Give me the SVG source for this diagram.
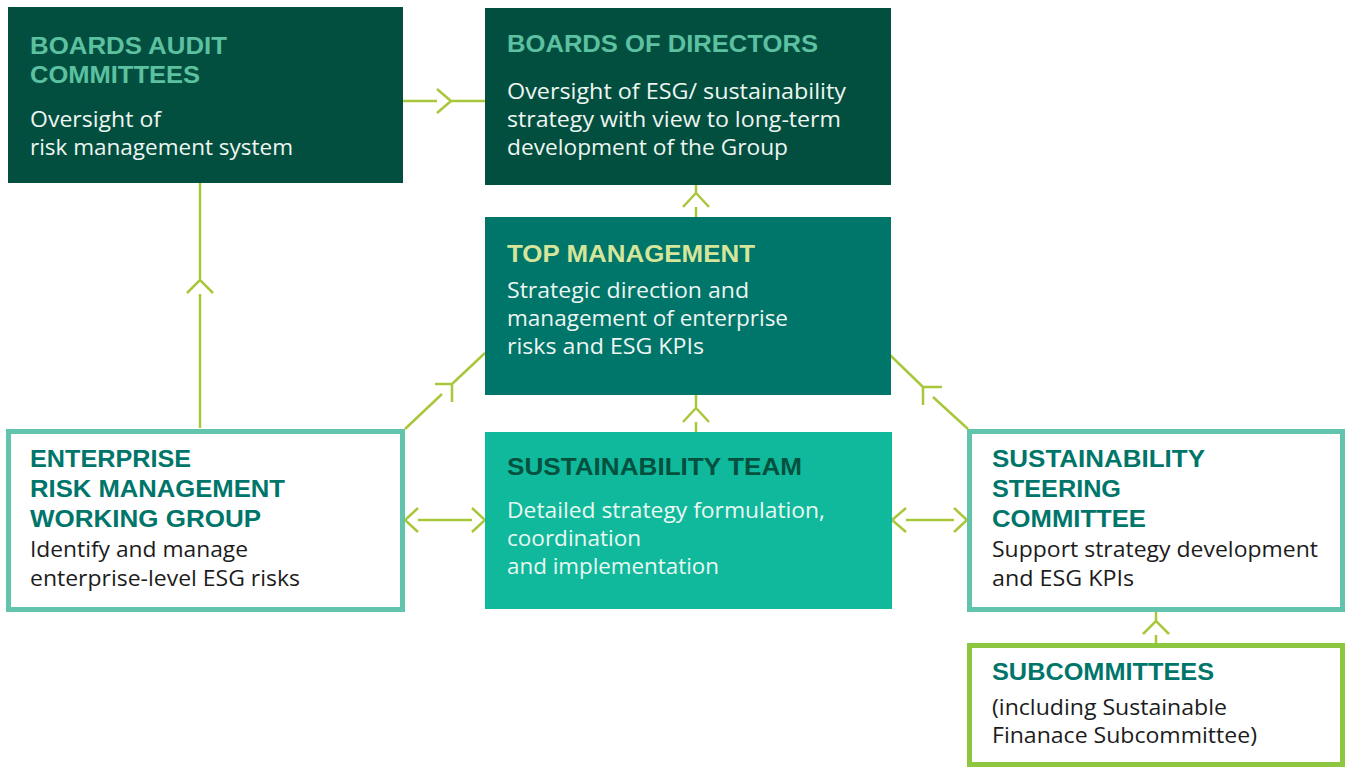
<svg xmlns="http://www.w3.org/2000/svg" width="1347" height="769" viewBox="0 0 1347 769">
<style>
.t{font-family:"Liberation Sans",Arial,sans-serif;font-weight:700;font-size:24.5px}
.b{font-family:"Open Sans","Liberation Sans",sans-serif;font-weight:400;font-size:21px}
.c{fill:none;stroke:#a9c73b;stroke-width:2.5;stroke-linecap:butt;stroke-linejoin:miter}
</style>
<rect width="1347" height="769" fill="#ffffff"/>
<g id="connectors">
  <path class="c" d="M403,101H437M437,89L451,101L437,113M451,101H485"/>
  <path class="c" d="M200,428V294M187,293L200,280L213,293M200,280V183"/>
  <path class="c" d="M696,217V207M683,207L696,193L709,207M696,193V185"/>
  <path class="c" d="M696,432V422M683,422L696,408L709,422M696,408V395"/>
  <path class="c" d="M405,429L442,394M435,384H452V402M452,384L485,353"/>
  <path class="c" d="M968,429L933,397M942,387H923V405M923,387L890,355"/>
  <path class="c" d="M418,508L405,520L418,532M418,520H472M472,508L485,520L472,532"/>
  <path class="c" d="M906,508L892,520L906,532M906,520H954M954,508L967,520L954,532"/>
  <path class="c" d="M1156,643V635M1143,634L1156,621L1169,634M1156,621V612"/>
</g>
<g id="audit">
  <rect x="8" y="7" width="395" height="176" fill="#034f3f"/>
  <text class="t" fill="#5cc1a1" x="30" y="54" textLength="197" lengthAdjust="spacingAndGlyphs">BOARDS AUDIT</text>
  <text class="t" fill="#5cc1a1" x="30" y="83" textLength="170" lengthAdjust="spacingAndGlyphs">COMMITTEES</text>
  <text class="b" fill="#eef6f2"><tspan x="30" y="127" textLength="131" lengthAdjust="spacingAndGlyphs">Oversight of</tspan><tspan x="30" y="155" textLength="263" lengthAdjust="spacingAndGlyphs">risk management system</tspan></text>
</g>
<g id="directors">
  <rect x="485" y="8" width="406" height="177" fill="#034f3f"/>
  <text class="t" fill="#5cc1a1" x="507" y="52" textLength="311" lengthAdjust="spacingAndGlyphs">BOARDS OF DIRECTORS</text>
  <text class="b" fill="#eef6f2"><tspan x="507" y="99" textLength="339" lengthAdjust="spacingAndGlyphs">Oversight of ESG/ sustainability</tspan><tspan x="507" y="127" textLength="334" lengthAdjust="spacingAndGlyphs">strategy with view to long-term</tspan><tspan x="507" y="155" textLength="281" lengthAdjust="spacingAndGlyphs">development of the Group</tspan></text>
</g>
<g id="top-management">
  <rect x="485" y="217" width="406" height="178" fill="#00756a"/>
  <text class="t" fill="#d5e59a" x="507" y="262" textLength="248" lengthAdjust="spacingAndGlyphs">TOP MANAGEMENT</text>
  <text class="b" fill="#eef6f2"><tspan x="507" y="298" textLength="242" lengthAdjust="spacingAndGlyphs">Strategic direction and</tspan><tspan x="507" y="326" textLength="281" lengthAdjust="spacingAndGlyphs">management of enterprise</tspan><tspan x="507" y="354" textLength="197" lengthAdjust="spacingAndGlyphs">risks and ESG KPIs</tspan></text>
</g>
<g id="sustainability-team">
  <rect x="485" y="432" width="407" height="177" fill="#10b99b"/>
  <text class="t" fill="#03503f" x="507" y="475" textLength="295" lengthAdjust="spacingAndGlyphs">SUSTAINABILITY TEAM</text>
  <text class="b" fill="#eaf8f3"><tspan x="507" y="518" textLength="318" lengthAdjust="spacingAndGlyphs">Detailed strategy formulation,</tspan><tspan x="507" y="546" textLength="134" lengthAdjust="spacingAndGlyphs">coordination</tspan><tspan x="507" y="574" textLength="212" lengthAdjust="spacingAndGlyphs">and implementation</tspan></text>
</g>
<g id="erm-working-group">
  <rect x="8.5" y="431.5" width="394" height="178" fill="#ffffff" stroke="#63c4ad" stroke-width="5"/>
  <text class="t" fill="#00756a" x="30" y="467" textLength="161" lengthAdjust="spacingAndGlyphs">ENTERPRISE</text>
  <text class="t" fill="#00756a" x="30" y="497" textLength="255" lengthAdjust="spacingAndGlyphs">RISK MANAGEMENT</text>
  <text class="t" fill="#00756a" x="30" y="527" textLength="231" lengthAdjust="spacingAndGlyphs">WORKING GROUP</text>
  <text class="b" fill="#1c1c1c"><tspan x="30" y="557" textLength="218" lengthAdjust="spacingAndGlyphs">Identify and manage</tspan><tspan x="30" y="586" textLength="270" lengthAdjust="spacingAndGlyphs">enterprise-level ESG risks</tspan></text>
</g>
<g id="steering-committee">
  <rect x="969.5" y="431.5" width="373" height="178" fill="#ffffff" stroke="#63c4ad" stroke-width="5"/>
  <text class="t" fill="#00756a" x="992" y="467" textLength="213" lengthAdjust="spacingAndGlyphs">SUSTAINABILITY</text>
  <text class="t" fill="#00756a" x="992" y="497" textLength="129" lengthAdjust="spacingAndGlyphs">STEERING</text>
  <text class="t" fill="#00756a" x="992" y="527" textLength="154" lengthAdjust="spacingAndGlyphs">COMMITTEE</text>
  <text class="b" fill="#1c1c1c"><tspan x="992" y="557" textLength="326" lengthAdjust="spacingAndGlyphs">Support strategy development</tspan><tspan x="992" y="586" textLength="142" lengthAdjust="spacingAndGlyphs">and ESG KPIs</tspan></text>
</g>
<g id="subcommittees">
  <rect x="969.5" y="645.5" width="373" height="119" fill="#ffffff" stroke="#8dc63f" stroke-width="5"/>
  <text class="t" fill="#00756a" x="992" y="680" textLength="222" lengthAdjust="spacingAndGlyphs">SUBCOMMITTEES</text>
  <text class="b" fill="#1c1c1c"><tspan x="992" y="715" textLength="235" lengthAdjust="spacingAndGlyphs">(including Sustainable</tspan><tspan x="992" y="743" textLength="265" lengthAdjust="spacingAndGlyphs">Finanace Subcommittee)</tspan></text>
</g>
</svg>
